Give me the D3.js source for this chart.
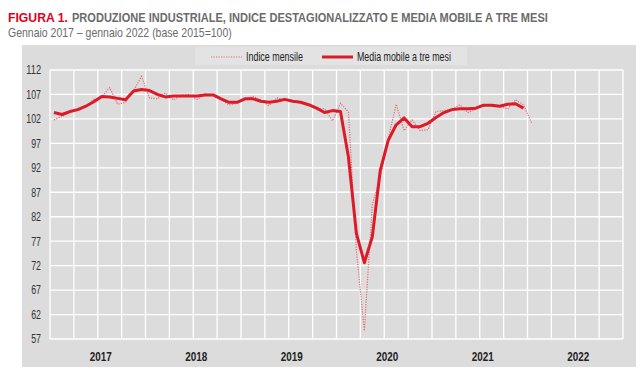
<!DOCTYPE html>
<html>
<head>
<meta charset="utf-8">
<script src="https://cdn.jsdelivr.net/npm/d3@7"></script>
<style>
    body { margin: 0; background: #fff; }
    svg text { font-family: "Liberation Sans Narrow", "Liberation Sans", Arial, sans-serif; }
</style>
</head>
<body>
<svg id="chart" width="642" height="388"></svg>
<script>
    // Gennaio 2017 - gennaio 2022, indice mensile destagionalizzato (base 2015=100)
    const years = ["2017", "2018", "2019", "2020", "2021", "2022"];
    const yTicks = [57, 62, 67, 72, 77, 82, 87, 92, 97, 102, 107, 112];

    const indiceMensile = [
        101.8, 102.5, 103.3, 104.0, 104.5, 106.0, 106.5, 108.4, 105.0, 105.4, 107.8, 110.7,
        106.3, 106.1, 107.3, 105.9, 106.8, 107.0, 106.0, 107.1, 106.8, 106.0, 104.8, 105.3,
        106.0, 106.6, 105.9, 104.7, 106.3, 105.9, 105.6, 105.3, 104.8, 104.0, 104.1, 101.6,
        105.2, 103.4, 75.0, 58.7, 84.5, 90.0, 98.0, 105.0, 99.6, 101.8, 99.6, 99.8,
        103.5, 103.7, 104.0, 104.9, 103.3, 104.0, 104.9, 104.8, 104.6, 104.0, 105.9, 104.9,
        101.2
    ];

    // media mobile a tre mesi (si ferma a dicembre 2021)
    const mediaMobile = [
        103.3, 102.9, 103.5, 103.9, 104.6, 105.5, 106.6, 106.5, 106.2, 105.9, 107.7, 108.0,
        107.8, 107.0, 106.5, 106.7, 106.7, 106.7, 106.7, 106.9, 106.9, 106.1, 105.4, 105.4,
        106.1, 106.1, 105.6, 105.4, 105.6, 106.0, 105.6, 105.4, 104.9, 104.2, 103.3, 103.7,
        103.5, 94.2, 78.6, 72.6, 77.9, 91.5, 97.6, 100.8, 102.2, 100.4, 100.4, 101.1,
        102.3, 103.3, 103.9, 104.1, 104.1, 104.2, 104.8, 104.8, 104.6, 105.0, 105.1, 104.2
    ];

    const svg = d3.select("#chart");

    const plotL = 50, plotR = 623, plotT = 70, plotB = 339;

    const x = d3.scaleLinear().domain([0, 72]).range([plotL, plotR]);   // mesi da gen 2017
    const y = d3.scaleLinear().domain([57, 112]).range([plotB, plotT]);
    const xYear = d3.scaleBand().domain(years).range([plotL, plotR]);

    // testo "stretto": niente Arial Narrow, quindi si schiaccia in orizzontale
    function narrowText(px, py, width, size, weight, color, str) {
        const t = svg.append("text")
            .attr("font-size", size).attr("font-weight", weight).attr("fill", color)
            .text(str);
        const w = t.node().getComputedTextLength();
        t.attr("transform", "translate(" + px + "," + py + ") scale(" + (width / w) + ",1)");
        return t;
    }

    // titolo
    narrowText(8, 22, 60, 13.5, "bold", "#e2001a", "FIGURA 1.");
    narrowText(72, 22, 476, 13.5, "bold", "#6b6b6b",
        "PRODUZIONE INDUSTRIALE, INDICE DESTAGIONALIZZATO E MEDIA MOBILE A TRE MESI");
    narrowText(8, 37, 224, 12, "normal", "#6b6b6b",
        "Gennaio 2017 \u2013 gennaio 2022 (base 2015=100)");

    // pannello grigio
    svg.insert("rect", ":first-child")
        .attr("x", 22).attr("y", 45).attr("width", 614).attr("height", 322)
        .attr("fill", "#dcdcdc");

    // griglia
    svg.append("g")
        .selectAll("line")
        .data(yTicks)
        .enter()
        .append("line")
        .attr("x1", plotL).attr("x2", plotR)
        .attr("y1", d => y(d)).attr("y2", d => y(d))
        .attr("stroke", "#fff").attr("stroke-width", 1.3);

    svg.append("g")
        .selectAll("line")
        .data(d3.range(0, 73, 3))
        .enter()
        .append("line")
        .attr("x1", d => x(d)).attr("x2", d => x(d))
        .attr("y1", plotT).attr("y2", plotB)
        .attr("stroke", "#fff").attr("stroke-width", 1.3);

    // assi
    const yAxis = svg.append("g")
        .attr("transform", "translate(" + (plotL - 9) + ",0)")
        .call(d3.axisLeft(y).tickValues(yTicks).tickSize(0).tickPadding(0));
    yAxis.select(".domain").remove();
    yAxis.selectAll("text")
        .attr("font-size", 12).attr("fill", "#333")
        .attr("textLength", d => String(d).length * 4.9)
        .attr("lengthAdjust", "spacingAndGlyphs");

    const xAxis = svg.append("g")
        .attr("transform", "translate(3," + plotB + ")")
        .call(d3.axisBottom(xYear).tickSize(0).tickPadding(13));
    xAxis.select(".domain").remove();
    xAxis.selectAll("text")
        .attr("font-size", 12.5).attr("font-weight", "bold").attr("fill", "#222")
        .attr("textLength", 22).attr("lengthAdjust", "spacingAndGlyphs");

    // linee
    const line = d3.line()
        .x((d, i) => x(i + 0.5))
        .y(d => y(d));

    svg.append("path")
        .datum(indiceMensile)
        .attr("d", line)
        .attr("fill", "none")
        .attr("stroke", "#e46a76")
        .attr("stroke-width", 1.2)
        .attr("stroke-dasharray", "1.2,1.3");

    svg.append("path")
        .datum(mediaMobile)
        .attr("d", line)
        .attr("fill", "none")
        .attr("stroke", "#dc1a28")
        .attr("stroke-width", 3)
        .attr("stroke-linejoin", "round");

    // legenda
    svg.append("rect")
        .attr("x", 195).attr("y", 47).attr("width", 272).attr("height", 18)
        .attr("fill", "#e3e3e3");
    svg.append("line")
        .attr("x1", 211).attr("x2", 242).attr("y1", 57).attr("y2", 57)
        .attr("stroke", "#e46a76").attr("stroke-width", 1.2)
        .attr("stroke-dasharray", "1.2,1.3");
    narrowText(246, 61, 57, 12, "normal", "#222", "Indice mensile");
    svg.append("line")
        .attr("x1", 322).attr("x2", 353).attr("y1", 57).attr("y2", 57)
        .attr("stroke", "#dc1a28").attr("stroke-width", 3);
    narrowText(357, 61, 94, 12, "normal", "#222", "Media mobile a tre mesi");
</script>
</body>
</html>
